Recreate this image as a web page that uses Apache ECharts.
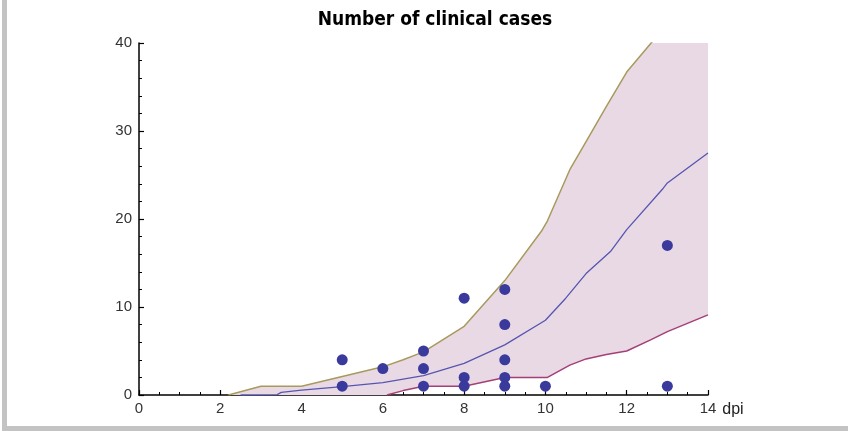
<!DOCTYPE html>
<html>
<head>
<meta charset="utf-8">
<script src="https://cdn.jsdelivr.net/npm/echarts@6/dist/echarts.min.js"></script>
<style>
html,body{margin:0;padding:0;background:#fff;}
#chart{width:848px;height:431px;}
</style>
</head>
<body>
<div id="chart"></div>
<script>
// Upper bound of the prediction band
var upperDays = [2.2, 3, 4, 5, 6, 6.5, 7, 8, 9, 9.9, 10.05, 10.6, 11, 11.5, 12, 12.6, 13, 14];
var upperVals = [0, 1, 1, 2.1, 3.2, 4, 4.9, 7.8, 13, 18.6, 19.8, 25.6, 28.8, 32.8, 36.7, 40, 42, 46];

// Lower bound of the prediction band
var lowerDays = [2.2, 6.1, 6.5, 7, 8, 9, 10.05, 10.6, 11, 11.5, 12, 12.6, 13, 14];
var lowerVals = [0, 0, 0.5, 1, 1, 2, 2, 3.4, 4.1, 4.6, 5, 6.3, 7.2, 9.1];

// Median curve
var medianDays = [2.5, 3.4, 3.5, 4, 5, 6, 7, 8, 9, 10, 10.5, 11, 11.6, 12, 12.9, 13, 14];
var medianVals = [0, 0.05, 0.3, 0.55, 0.95, 1.4, 2.2, 3.6, 5.7, 8.5, 11, 13.8, 16.3, 18.8, 23.5, 24.1, 27.5];

// Observed clinical cases
var obsDays  = [5, 5, 6, 7, 7, 7, 8, 8, 8, 9, 9, 9, 9, 9, 10, 13, 13];
var obsCases = [4, 1, 3, 5, 3, 1, 11, 2, 1, 12, 8, 4, 2, 1, 1, 17, 1];

var xTicks = [0, 2, 4, 6, 8, 10, 12, 14];
var yTicks = [0, 10, 20, 30, 40];

function pairs(xs, ys) { return xs.map(function (x, i) { return [x, ys[i]]; }); }

var upperPairs = pairs(upperDays, upperVals);
var lowerPairs = pairs(lowerDays, lowerVals);
var lowerVisible = lowerPairs.filter(function (p) { return p[0] >= 6.1; });

var chart = echarts.init(document.getElementById('chart'), null, {renderer: 'canvas'});
var lblFont = "'Liberation Sans', Arial, sans-serif";
chart.setOption({
  animation: false,
  backgroundColor: '#ffffff',
  title: {
    text: 'Number of clinical cases',
    left: 430, top: 6, textAlign: 'center',
    textStyle: {fontFamily: "'DejaVu Sans Condensed', 'Liberation Sans', Arial, sans-serif", fontWeight: 'bold', fontSize: 19, color: '#000'}
  },
  graphic: [
    {type: 'rect', shape: {x: 2, y: 0, width: 5, height: 431}, style: {fill: '#c3c3c3'}, z: 100},
    {type: 'rect', shape: {x: 2, y: 426, width: 846, height: 5}, style: {fill: '#c3c3c3'}, z: 100}
  ],
  grid: {left: 139, right: 140, top: 43, bottom: 36, containLabel: false},
  xAxis: {
    type: 'value', min: xTicks[0], max: xTicks[xTicks.length - 1], interval: 2,
    name: 'dpi', nameLocation: 'end', nameGap: 3,
    nameTextStyle: {fontFamily: lblFont, fontSize: 16, color: '#222', verticalAlign: 'top', padding: [7, 0, 0, 0]},
    axisLine: {show: true, onZero: false, lineStyle: {color: '#000', width: 1.5}},
    axisTick: {show: true, inside: true, length: 5, lineStyle: {color: '#000', width: 1.2}},
    minorTick: {show: true, splitNumber: 4, length: 3, lineStyle: {color: '#000', width: 1}},
    axisLabel: {fontFamily: lblFont, fontSize: 15, color: '#333', margin: 6},
    splitLine: {show: false}
  },
  yAxis: {
    type: 'value', min: yTicks[0], max: yTicks[yTicks.length - 1], interval: 10,
    axisLine: {show: true, lineStyle: {color: '#000', width: 1.5}},
    axisTick: {show: true, inside: true, length: 5, lineStyle: {color: '#000', width: 1.2}},
    minorTick: {show: true, splitNumber: 5, length: 3, lineStyle: {color: '#000', width: 1}},
    axisLabel: {fontFamily: lblFont, fontSize: 15, color: '#333', margin: 7},
    splitLine: {show: false}
  },
  series: [
    {
      type: 'custom', clip: true, silent: true, z: 1,
      data: [0],
      renderItem: function (params, api) {
        var pts = [];
        upperPairs.forEach(function (p) { pts.push(api.coord(p)); });
        for (var i = lowerPairs.length - 1; i >= 0; i--) pts.push(api.coord(lowerPairs[i]));
        return {type: 'polygon', shape: {points: pts}, style: {fill: '#e9d9e4', stroke: null}};
      }
    },
    {
      type: 'line', data: upperPairs, symbol: 'none',
      lineStyle: {color: '#a89a5c', width: 1.5}, z: 3
    },
    {
      type: 'line', data: lowerVisible, symbol: 'none',
      lineStyle: {color: '#a43f78', width: 1.5}, z: 3
    },
    {
      type: 'line', data: pairs(medianDays, medianVals), symbol: 'none',
      lineStyle: {color: '#5656b2', width: 1.3}, z: 3
    },
    {
      type: 'scatter', data: pairs(obsDays, obsCases), symbol: 'circle', symbolSize: 11,
      itemStyle: {color: '#3a3a9c', opacity: 1}, z: 5
    }
  ]
});
</script>
</body>
</html>
